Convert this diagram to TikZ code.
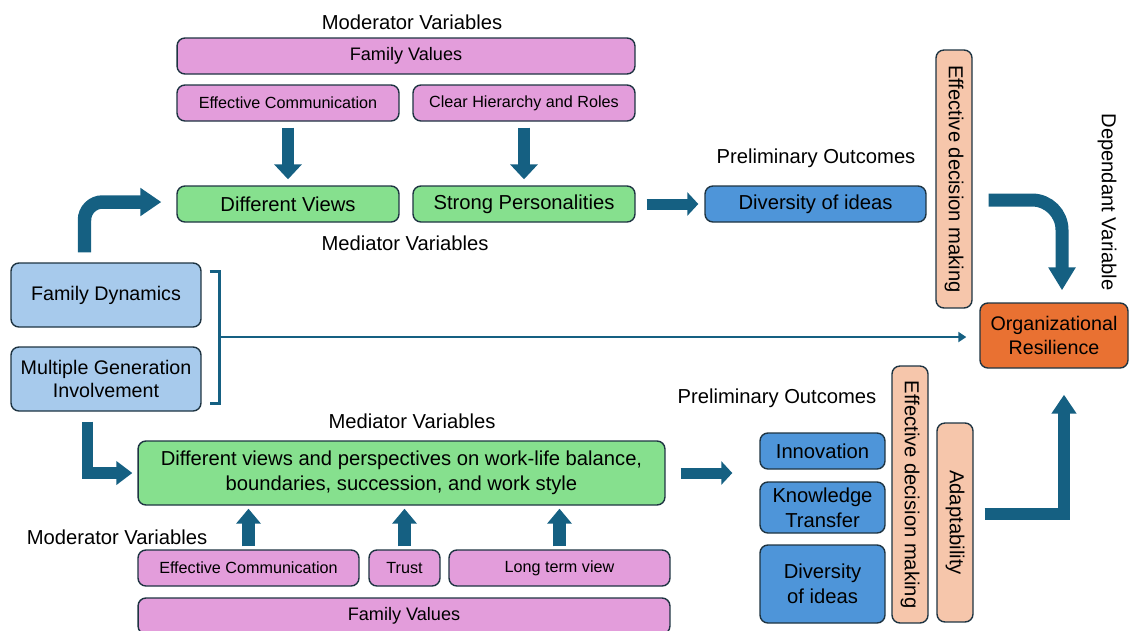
\documentclass[tikz,border=0pt]{standalone}
\usepackage{fontspec}
\setmainfont{Liberation Sans}
\usetikzlibrary{arrows.meta,calc}

\definecolor{bordc}{HTML}{1E3442}
\definecolor{modc}{HTML}{E39DDB}
\definecolor{medc}{HTML}{86E08E}
\definecolor{srcc}{HTML}{A7CAEC}
\definecolor{outc}{HTML}{4E95D9}
\definecolor{effc}{HTML}{F6C6AB}
\definecolor{resc}{HTML}{E97132}
\definecolor{arrc}{HTML}{156082}

\begin{document}
\begin{tikzpicture}[x=0.02cm, y=-0.02cm,
    box/.style={draw=bordc, line width=0.8pt, rounded corners=4.5pt,
                align=center, inner sep=2pt, text=black},
    modbox/.style={box, fill=modc, font=\fontsize{9.2}{11}\selectfont,
                   minimum height=0.72cm},
    fvbox/.style={box, fill=modc, font=\fontsize{10.3}{12}\selectfont,
                  minimum height=0.72cm},
    medbox/.style={box, fill=medc, font=\fontsize{11.5}{14.5}\selectfont,
                   minimum height=0.72cm},
    srcbox/.style={box, fill=srcc, font=\fontsize{11.2}{13.5}\selectfont,
                   minimum width=3.8cm, minimum height=1.28cm},
    outbox/.style={box, fill=outc, font=\fontsize{11.5}{14}\selectfont,
                   minimum height=0.72cm},
    effbox/.style={box, fill=effc, font=\fontsize{11.5}{14}\selectfont,
                   minimum height=0.72cm, rotate=-90},
    resbox/.style={box, fill=resc, font=\fontsize{11.2}{13.5}\selectfont,
                   minimum width=2.96cm, minimum height=1.3cm},
    lbl/.style={font=\fontsize{11.5}{14}\selectfont, inner sep=1pt},
    blk/.style={draw=arrc, line width=0.25cm,
                -{Triangle[width=0.54cm,length=0.3cm]}},
    blksm/.style={draw=arrc, line width=0.22cm,
                  -{Triangle[width=0.46cm,length=0.22cm]}},
    thinln/.style={draw=arrc, line width=1.4pt}]
  \useasboundingbox (0,0) rectangle (1129,630);

  % top branch
  \node[lbl]                          (modTop) at (412,22)    {Moderator Variables};
  \node[fvbox, minimum width=9.16cm]  (fvTop)  at (406,56)    {Family Values};
  \node[modbox, minimum width=4.44cm] (ecTop)  at (288,103)   {Effective Communication};
  \node[modbox, minimum width=4.44cm] (chr)    at (524,103)   {Clear Hierarchy and Roles};
  \node[medbox, minimum width=4.44cm] (dvTop)  at (288,204)   {Different Views};
  \node[medbox, minimum width=4.44cm] (sp)     at (524,204)   {Strong Personalities};
  \node[lbl]                          (medTop) at (405,243)   {Mediator Variables};
  \node[lbl]                          (preTop) at (816,158)   {Preliminary Outcomes};
  \node[outbox, minimum width=4.42cm] (divTop) at (815.5,204) {Diversity of ideas};
  \node[effbox, minimum width=5.16cm] (edmTop) at (954,179)   {Effective decision making};
  \node[lbl, rotate=-90]              (dep)    at (1107,202)  {Dependant Variable};
  \node[resbox]                       (orgRes) at (1054,335.5) {Organizational\\Resilience};

  % sources
  \node[srcbox] (famDyn) at (106,295) {Family Dynamics};
  \node[srcbox] (mgi)    at (106,379) {Multiple Generation\\Involvement};

  % bottom branch
  \node[lbl]                           (medBot) at (412,421)   {Mediator Variables};
  \node[medbox, minimum width=10.54cm, minimum height=1.28cm]
        (views) at (401.5,473) {Different views and perspectives on work-life balance,\\
                                boundaries, succession, and work style};
  \node[lbl]                           (modBot) at (117,537)   {Moderator Variables};
  \node[modbox, minimum width=4.42cm]  (ecBot)  at (248.5,568) {Effective Communication};
  \node[modbox, minimum width=1.42cm]  (trust)  at (404.5,568) {Trust};
  \node[modbox, minimum width=4.42cm]  (ltv)    at (559.5,568) {Long term view};
  \node[fvbox, minimum width=10.64cm]  (fvBot)  at (404,616)   {Family Values};
  \node[lbl]                           (preBot) at (777,398)   {Preliminary Outcomes};
  \node[outbox, minimum width=2.5cm]   (inno)   at (822.5,451) {Innovation};
  \node[outbox, minimum width=2.5cm, minimum height=1.02cm]
        (kt) at (822.5,507.5) {Knowledge\\Transfer};
  \node[outbox, minimum width=2.5cm, minimum height=1.56cm]
        (divBot) at (822.5,584) {Diversity\\of ideas};
  \node[effbox, minimum width=5.14cm]  (edmBot) at (910,494.5) {Effective decision making};
  \node[effbox, minimum width=3.98cm]  (adapt)  at (955,522.5) {Adaptability};

  % block arrows
  \draw[blk, line width=0.27cm, rounded corners=0.36cm,
        -{Triangle[width=0.54cm,length=0.42cm]}]
    ($(famDyn.north)+(-21.5,-10)$) |- ($(dvTop.west)+(-15,-2)$);
  \draw[blk] ($(ecTop.south)+(0,6)$) -- ($(dvTop.north)+(0,-6)$);
  \draw[blk] ($(chr.south)+(0,6)$) -- ($(sp.north)+(0,-6)$);
  \draw[blksm] ($(sp.east)+(11,0)$) -- ($(divTop.west)+(-6,0)$);
  \draw[blk, line width=0.26cm, rounded corners=0.6cm,
        -{Triangle[width=0.52cm,length=0.46cm]}]
    ($(divTop.east)+(62,-4)$) -| ($(orgRes.north)+(8,-12)$);

  % bracket and direct link
  \coordinate (brk) at ($(famDyn.east)!0.5!(mgi.east)+(18,0)$);
  \draw[thinln] ($(famDyn.north east)+(8,9)$) -| (brk) |- ($(mgi.south east)+(8,-8)$);
  \draw[thinln, -{Triangle[width=0.2cm,length=0.16cm]}]
    (brk) -- ($(brk -| orgRes.west)+(-13,0)$);

  \draw[blk, line width=0.23cm, -{Triangle[width=0.46cm,length=0.32cm]}]
    ($(mgi.south)+(-18.5,10)$) |- ($(views.west)+(-5,0)$);
  \foreach \m in {ecBot,trust,ltv}
    \draw[blk, -{Triangle[width=0.48cm,length=0.3cm]}]
      ($(\m.north)+(0,-3)$) -- ($(\m.north |- views.south)+(0,3)$);
  \draw[blksm] ($(views.east)+(15,0)$) -- ($(views.east -| inno.west)+(-27,0)$);
  \draw[blk, -{Triangle[width=0.48cm,length=0.38cm]}]
    ($(adapt.north)+(11,-8.5)$) -| ($(orgRes.south)+(10,26)$);
\end{tikzpicture}
\end{document}
